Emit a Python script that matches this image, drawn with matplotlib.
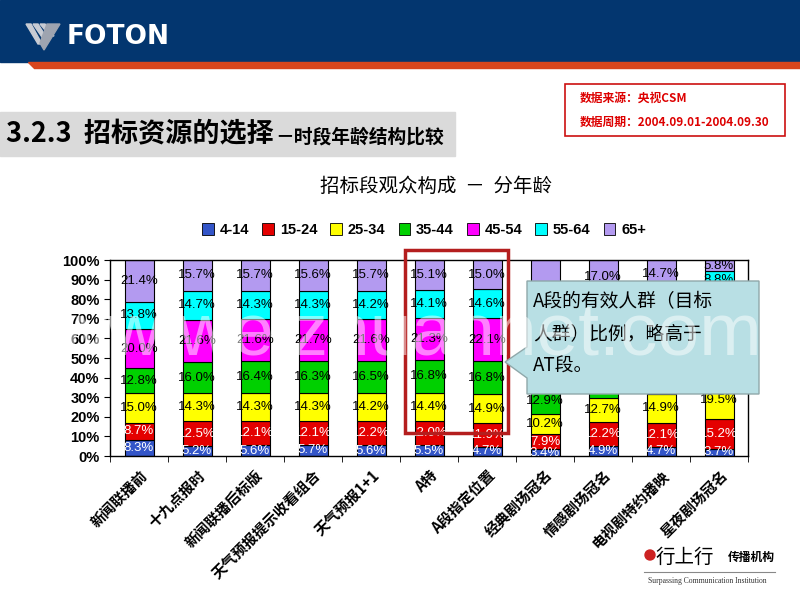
import numpy as np
import matplotlib
matplotlib.use("Agg")
import matplotlib.pyplot as plt
from matplotlib.patches import Rectangle, Polygon, Circle

plt.rcParams['font.family'] = ['Liberation Sans', 'Noto Sans CJK SC', 'DejaVu Sans']
CJK = ['Noto Sans CJK SC', 'DejaVu Sans']

# data (values hidden behind the callout are estimates)
programs = ['新闻联播前', '十九点报时', '新闻联播后标版', '天气预报提示收看组合', '天气预报1+1',
            'A特', 'A段指定位置', '经典剧场冠名', '情感剧场冠名', '电视剧特约播映', '星夜剧场冠名']
age_groups = ['4-14', '15-24', '25-34', '35-44', '45-54', '55-64', '65+']
age_4_14 = [8.3, 5.2, 5.6, 5.7, 5.6, 5.5, 4.7, 3.4, 4.9, 4.7, 3.7]
age_15_24 = [8.7, 12.5, 12.1, 12.1, 12.2, 12.0, 11.9, 7.9, 12.2, 12.1, 15.2]
age_25_34 = [15.0, 14.3, 14.3, 14.3, 14.2, 14.4, 14.9, 10.2, 12.7, 14.9, 19.5]
age_35_44 = [12.8, 16.0, 16.4, 16.3, 16.5, 16.8, 16.8, 12.9, 16.5, 16.5, 24.0]
age_45_54 = [20.0, 21.6, 21.6, 21.7, 21.6, 21.3, 22.1, 18.0, 22.5, 22.5, 23.0]
age_55_64 = [13.8, 14.7, 14.3, 14.3, 14.2, 14.1, 14.6, 14.5, 14.2, 14.6, 8.8]
age_65p = [21.4, 15.7, 15.7, 15.6, 15.7, 15.1, 15.0, 33.1, 17.0, 14.7, 5.8]

series = [age_4_14, age_15_24, age_25_34, age_35_44, age_45_54, age_55_64, age_65p]
colors = ['#3355c8', '#e40000', '#ffff00', '#00d000', '#ff00ff', '#00ffff', '#b39af0']
label_colors = ['white', 'white', 'black', 'black', 'black', 'black', 'black']

fig = plt.figure(figsize=(8, 6), dpi=100)
fig.patch.set_facecolor('white')

# main chart
ax = fig.add_axes([110/800, 144/600, 638/800, 196/600])
vals = np.array(series)
shares = vals / vals.sum(axis=0) * 100
x = np.arange(len(programs))
bottom = np.zeros(len(programs))
for i, grp in enumerate(age_groups):
    ax.bar(x, shares[i], 0.5, bottom=bottom, color=colors[i], edgecolor='black',
           linewidth=0.8, label=grp, zorder=2)
    for j in range(len(programs)):
        ax.text(x[j], bottom[j] + shares[i][j] / 2, f'{vals[i][j]:.1f}%', ha='center', va='center',
                fontsize=9.5, color=label_colors[i], zorder=3)
    bottom += shares[i]

ax.set_xlim(-0.5, len(programs) - 0.5)
ax.set_ylim(0, 100)
ax.set_yticks(np.arange(0, 101, 10))
ax.set_yticklabels([f'{v}%' for v in range(0, 101, 10)], fontsize=10.5, fontweight='bold')
ax.set_xticks(x)
ax.set_xticklabels(programs, rotation=45, ha='right', rotation_mode='anchor',
                   fontsize=10.5, fontweight='bold', family=CJK)
ax.tick_params(axis='x', length=0, pad=8)
ax.set_xticks(np.arange(-0.5, len(programs), 1), minor=True)
ax.tick_params(axis='x', which='minor', length=4, direction='out')
ax.tick_params(axis='y', length=4, direction='out')
for s in ax.spines.values():
    s.set_linewidth(1.0)

leg = fig.legend(loc='center', bbox_to_anchor=(424/800, 1 - 230/600), ncol=7, frameon=False,
                 prop={'size': 10.5, 'weight': 'bold'}, handlelength=0.8, handleheight=0.8,
                 handletextpad=0.4, columnspacing=0.9)
for h in leg.legend_handles:
    h.set_edgecolor('black')
    h.set_linewidth(0.6)

fig.text(436/800, 1 - 186/600, '招标段观众构成  －  分年龄', ha='center', va='center', fontsize=14,
         family=CJK)

# decoration overlay in pixel space
ov = fig.add_axes([0, 0, 1, 1], zorder=5)
ov.set_xlim(0, 800)
ov.set_ylim(600, 0)
ov.axis('off')
ov.patch.set_alpha(0)

ov.add_patch(Rectangle((0, 0), 800, 62, color='#03366f', zorder=1))
ov.add_patch(Polygon([(28, 62), (800, 62), (800, 68), (34, 68)], color='#d8461e', zorder=1))
for k in range(3):
    ov.add_patch(Polygon([(26 + 7*k, 24), (31 + 7*k, 24), (42 + 6*k, 44 - 4*k), (38 + 6*k, 44 - 4*k)],
                         color='#c8ccd4', zorder=2))
ov.add_patch(Polygon([(47, 24), (60, 24), (44, 50), (40, 43)], color='#9ea4b0', zorder=2))
ov.text(67, 37, 'FOTON', color='white', fontsize=19, fontweight='bold', va='center', ha='left',
        family='DejaVu Sans')

ov.add_patch(Rectangle((0, 112), 455, 44, color='#dadada', zorder=1))
t1 = ov.text(6, 134, '3.2.3  招标资源的选择', fontsize=19.5, fontweight='bold', va='center', ha='left',
             family=CJK, zorder=2)
fig.canvas.draw()
bb = t1.get_window_extent(renderer=fig.canvas.get_renderer())
x_end = bb.x1 * 800 / fig.bbox.width
ov.text(x_end + 1, 137, '－时段年龄结构比较', fontsize=13.5, fontweight='bold', va='center', ha='left',
        family=CJK, zorder=2)

ov.add_patch(Rectangle((565, 84), 220, 52, facecolor='white', edgecolor='#cc1111', lw=1.2))
ov.text(580, 98, '数据来源：央视CSM', color='#dd0000', fontsize=8.5, fontweight='bold', va='center',
        family=CJK)
ov.text(580, 122, '数据周期：2004.09.01-2004.09.30', color='#dd0000', fontsize=8.5, fontweight='bold',
        va='center', family=CJK)

ov.add_patch(Rectangle((405, 250), 103, 183, facecolor='none', edgecolor='#b41e1e', lw=2.5))

ov.add_patch(Polygon([(527, 281), (759, 281), (759, 394), (527, 394), (527, 378), (505, 362), (527, 347)],
                     facecolor='#b8dfe4', edgecolor='#8fa8aa', lw=1.0))
ov.text(533, 302, 'A段的有效人群（目标', fontsize=13.5, va='center', ha='left', family=CJK)
ov.text(533, 334, '人群）比例，略高于', fontsize=13.5, va='center', ha='left', family=CJK)
ov.text(533, 366, 'AT段。', fontsize=13.5, va='center', ha='left', family=CJK)

ov.add_patch(Circle((650, 555), 5, color='#cc2222'))
ov.text(656, 557, '行上行', fontsize=14, va='center', ha='left', family=CJK)
ov.text(728, 557, '传播机构', fontsize=8.5, fontweight='bold', va='center', ha='left', family=CJK)
ov.plot([644, 775], [572, 572], color='#888888', lw=0.8)
ov.text(648, 581, 'Surpassing Communication Institution', fontsize=5.5, va='center', ha='left',
        family='Liberation Serif', color='#333333')

ov.text(380, 335, 'www.weizhuannet.com', fontsize=54, color='white', alpha=0.5,
        ha='center', va='center', zorder=10)

fig.savefig('out.png', dpi=100)
